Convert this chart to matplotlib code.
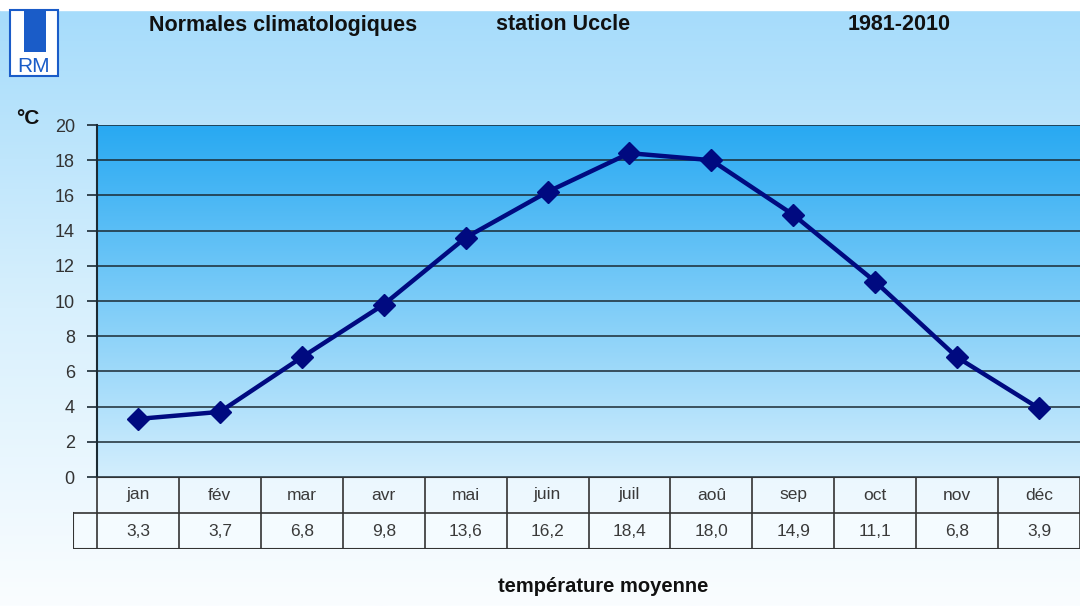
import numpy as np
import matplotlib.pyplot as plt
from matplotlib.colors import LinearSegmentedColormap
from matplotlib.patches import Rectangle

plt.rcParams['font.family'] = ['Liberation Sans', 'DejaVu Sans']

# Données : normales climatologiques Uccle 1981-2010
mois = ['jan', 'fév', 'mar', 'avr', 'mai', 'juin', 'juil', 'aoû', 'sep', 'oct', 'nov', 'déc']
temp_moy = [3.3, 3.7, 6.8, 9.8, 13.6, 16.2, 18.4, 18.0, 14.9, 11.1, 6.8, 3.9]
yticks = [0, 2, 4, 6, 8, 10, 12, 14, 16, 18, 20]

W, H = 1080, 606
fig = plt.figure(figsize=(W / 100, H / 100), dpi=100)

# fond de la figure (dégradé bleu clair -> blanc)
bg = fig.add_axes([0, 0, 1, 1], zorder=-10)
bg_cmap = LinearSegmentedColormap.from_list('bg', ['#a6dcfb', '#d8f0fd', '#fafdff'])
grad = np.linspace(0, 1, 256).reshape(-1, 1)
bg.imshow(grad, aspect='auto', cmap=bg_cmap, extent=[0, 1, 0, 1 - 10 / H], origin='upper')
bg.add_patch(Rectangle((0, 1 - 10 / H), 1, 10 / H, color='white'))
bg.set_xlim(0, 1)
bg.set_ylim(0, 1)
bg.axis('off')

# logo RM
bg.add_patch(Rectangle((10 / W, 1 - 76 / H), 48 / W, 66 / H, facecolor='white',
                       edgecolor='#1a5cc8', linewidth=1.5))
bg.add_patch(Rectangle((24 / W, 1 - 52 / H), 22 / W, 42 / H, facecolor='#1a5cc8', linewidth=0))
bg.text(34 / W, 1 - 66 / H, 'RM', color='#1a5cc8', fontsize=15, ha='center', va='center')

# zone du graphique
x0, x1 = 97, 1080
y_top, y_bot = 125, 477
ax = fig.add_axes([x0 / W, 1 - y_bot / H, (x1 - x0) / W, (y_bot - y_top) / H])
ax.set_xlim(-0.5, 11.5)
ax.set_ylim(0, 20)
plot_cmap = LinearSegmentedColormap.from_list('plot', ['#28a9f2', '#7cccf8', '#d3eefd'])
ax.imshow(grad, aspect='auto', cmap=plot_cmap, extent=[-0.5, 11.5, 0, 20],
          origin='upper', zorder=0)
for y in yticks:
    ax.axhline(y, color='#1b2a33', linewidth=1.1, zorder=1)

x = np.arange(len(mois))
ax.plot(x, temp_moy, color='#000a80', linewidth=3.2, marker='D', markersize=11,
        markerfacecolor='#000a80', markeredgecolor='#000a80', zorder=3)

ax.set_yticks(yticks)
ax.set_yticklabels([str(v) for v in yticks], fontsize=13, color='#333333')
ax.tick_params(axis='y', length=7, width=1.2, color='#1b2a33', pad=9)
ax.set_xticks([])
for s in ['top', 'right', 'bottom']:
    ax.spines[s].set_visible(False)
ax.spines['left'].set_color('#1b2a33')
ax.spines['left'].set_linewidth(1.5)

# tableau des valeurs
row_h = 36
tab = fig.add_axes([73 / W, 1 - (y_bot + 2 * row_h) / H, (x1 - 73) / W, 2 * row_h / H])
left_ext = (x0 - 73) / ((x1 - x0) / 12)
tab.set_xlim(-0.5 - left_ext, 11.5)
tab.set_ylim(0, 2)
tab.axis('off')
lc = '#333333'
tab.plot([-0.5, 11.5], [2, 2], color=lc, lw=1.5)
tab.plot([-0.5 - left_ext, 11.5], [1, 1], color=lc, lw=1.2)
tab.plot([-0.5 - left_ext, 11.5], [0, 0], color=lc, lw=1.5)
tab.plot([-0.5 - left_ext, -0.5 - left_ext], [0, 1], color=lc, lw=1.5)
for i in range(13):
    tab.plot([i - 0.5, i - 0.5], [0, 2], color=lc, lw=1.2)
tab.add_patch(Rectangle((-0.5 - left_ext, 0), 12 + left_ext, 1, facecolor='#f4fbff',
                        edgecolor='none', zorder=0))
for i, (m, v) in enumerate(zip(mois, temp_moy)):
    tab.text(i, 1.5, m, ha='center', va='center', fontsize=12.5, color='#3a3a3a')
    tab.text(i, 0.5, f'{v:.1f}'.replace('.', ','), ha='center', va='center',
             fontsize=12.5, color='#3a3a3a')

# textes
fig.text(283 / W, 1 - 25 / H, 'Normales climatologiques', ha='center', va='center',
         fontsize=15.5, fontweight='bold', color='#111111')
fig.text(563 / W, 1 - 25 / H, 'station Uccle', ha='center', va='center',
         fontsize=15.5, fontweight='bold', color='#111111')
fig.text(899 / W, 1 - 25 / H, '1981-2010', ha='center', va='center',
         fontsize=15.5, fontweight='bold', color='#111111')
fig.text(28 / W, 1 - 119 / H, '°C', ha='center', va='center', fontsize=15,
         fontweight='bold', color='#111111')
fig.text(603 / W, 1 - 587 / H, 'température moyenne', ha='center', va='center',
         fontsize=14.5, fontweight='bold', color='#111111')

fig.savefig('out.png', dpi=100)
